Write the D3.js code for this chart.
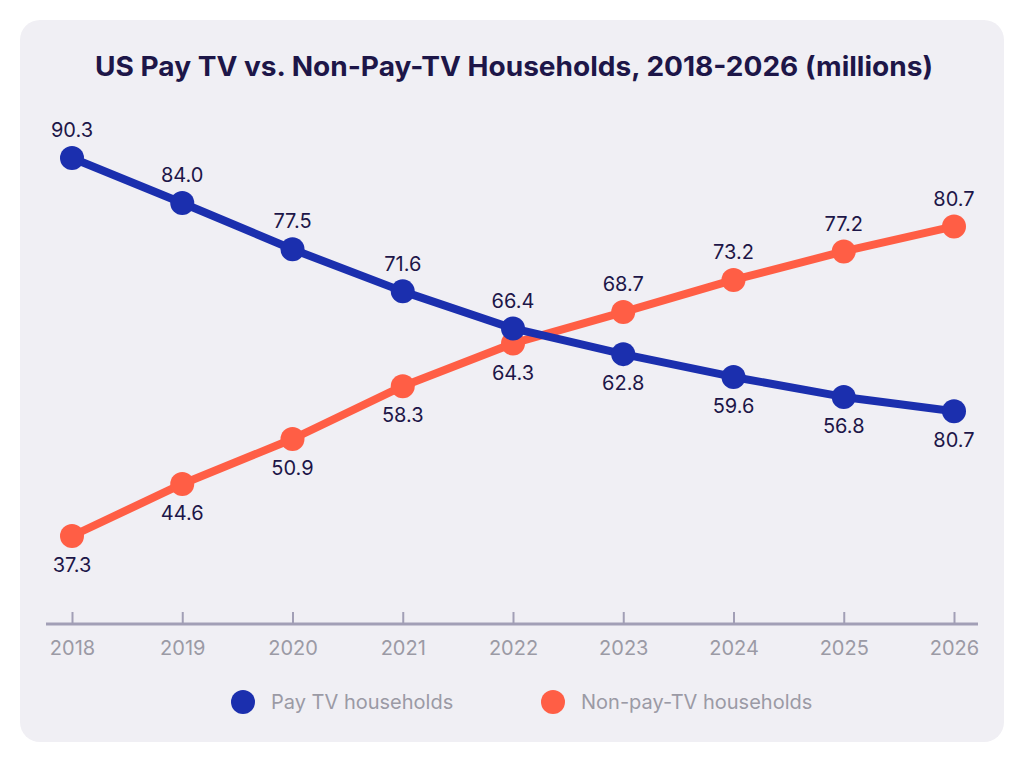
<!DOCTYPE html>
<html><head><meta charset="utf-8">
<script src="https://cdn.jsdelivr.net/npm/d3@7"></script>
<style>html,body{margin:0;padding:0;background:#fff;}svg{display:block;}</style>
</head><body>
<script>
const years = [2018, 2019, 2020, 2021, 2022, 2023, 2024, 2025, 2026];
const payTV = [90.3, 84.0, 77.5, 71.6, 66.4, 62.8, 59.6, 56.8, 54.8];
const payTVLabels = ["90.3", "84.0", "77.5", "71.6", "66.4", "62.8", "59.6", "56.8", "80.7"];
const nonPayTV = [37.3, 44.6, 50.9, 58.3, 64.3, 68.7, 73.2, 77.2, 80.7];
const nonPayTVLabels = ["37.3", "44.6", "50.9", "58.3", "64.3", "68.7", "73.2", "77.2", "80.7"];
const seriesNames = ["Pay TV households", "Non-pay-TV households"];
const title = "US Pay TV vs. Non-Pay-TV Households, 2018-2026 (millions)";

const W = 1024, H = 762;
const blue = "#1b2fae", orange = "#ff5e45", navy = "#1d1648", gray = "#9b9aa5";
const svg = d3.select("body").append("svg").attr("width", W).attr("height", H);

svg.append("rect").attr("x", 20).attr("y", 20).attr("width", 984).attr("height", 722)
  .attr("rx", 20).attr("fill", "#f0eff4");

const t = svg.append("text").attr("x", 514).attr("y", 76).attr("text-anchor", "middle")
  .attr("font-family", "Inter, 'Open Sans', sans-serif").attr("font-weight", 700)
  .attr("font-size", 27).attr("fill", navy).text(title);
t.attr("textLength", 838).attr("lengthAdjust", "spacingAndGlyphs");

const x = d3.scalePoint().domain(years).range([72, 954]);
const y = d3.scaleLinear().domain([37.3, 90.3]).range([536, 158]);
const axisY = 624;

const axis = d3.axisBottom(x).tickSize(0).tickPadding(0);
const ag = svg.append("g").attr("transform", `translate(0,${axisY})`).call(axis);
ag.select(".domain").remove();
ag.append("line").attr("x1", 46).attr("x2", 978).attr("y1", 0).attr("y2", 0)
  .attr("stroke", "#a29fb6").attr("stroke-width", 3);
ag.selectAll(".tick").append("line").attr("y1", -12).attr("y2", 0)
  .attr("stroke", "#a29fb6").attr("stroke-width", 2);
ag.selectAll(".tick text").attr("y", 31).attr("dy", 0)
  .attr("font-family", "Inter, sans-serif").attr("font-size", 20).attr("fill", gray);

const line = d3.line().x((d, i) => x(years[i])).y(d => y(d));

function drawSeries(vals, labels, color, aboveFn) {
  svg.append("path").datum(vals).attr("d", line).attr("fill", "none")
    .attr("stroke", color).attr("stroke-width", 8).attr("stroke-linejoin", "round");
  svg.append("g").selectAll("circle").data(vals).join("circle")
    .attr("cx", (d, i) => x(years[i])).attr("cy", d => y(d)).attr("r", 12).attr("fill", color);
  return () => svg.append("g").selectAll("text").data(vals).join("text")
    .attr("x", (d, i) => x(years[i]))
    .attr("y", (d, i) => y(d) + (aboveFn(i) ? -28 : 29))
    .attr("dy", "0.36em")
    .attr("text-anchor", "middle").attr("font-family", "Inter, sans-serif")
    .attr("font-size", 20).attr("fill", navy).text((d, i) => labels[i]);
}
const l2 = drawSeries(nonPayTV, nonPayTVLabels, orange, i => i >= 5);
const l1 = drawSeries(payTV, payTVLabels, blue, i => i <= 4);
l1(); l2();

const legend = [{name: seriesNames[0], color: blue, cx: 243}, {name: seriesNames[1], color: orange, cx: 553}];
const lg = svg.append("g");
legend.forEach(d => {
  lg.append("circle").attr("cx", d.cx).attr("cy", 702).attr("r", 12).attr("fill", d.color);
  lg.append("text").attr("x", d.cx + 28).attr("y", 709).attr("font-family", "Inter, sans-serif")
    .attr("font-size", 20).attr("fill", gray).text(d.name);
});
</script>
</body></html>
